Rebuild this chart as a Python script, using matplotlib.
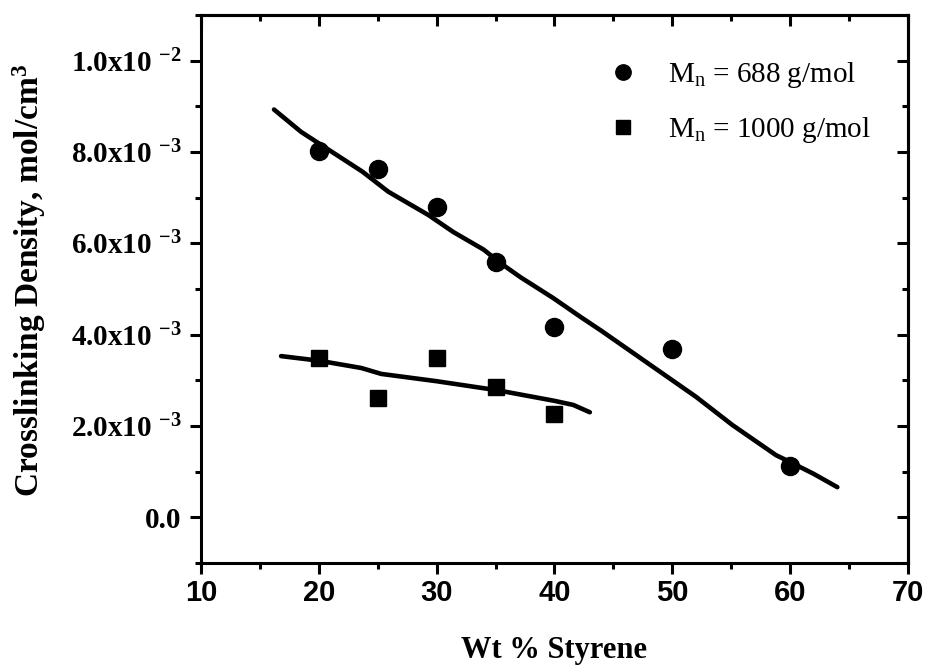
import matplotlib
matplotlib.use('Agg')
import matplotlib.pyplot as plt
import matplotlib.ticker as mticker

plt.rcParams.update({
    "font.family":       "serif",
    "font.serif":        ["Liberation Serif", "DejaVu Serif"],
    "mathtext.fontset":  "custom",
    "mathtext.rm":       "Liberation Serif",
    "mathtext.it":       "Liberation Serif:italic",
    "mathtext.bf":       "Liberation Serif:bold",
    "mathtext.default":  "regular",
    "axes.linewidth":    2.2,
})

# ── Data ───────────────────────────────────────────────────────────────────
styrene      = [20, 25, 30, 35, 40, 50, 60]
density_688  = [8.02e-3, 7.62e-3, 6.80e-3, 5.59e-3, 4.17e-3, 3.68e-3, 1.12e-3]
styrene_1000 = [20, 25, 30, 35, 40]
density_1000 = [3.49e-3, 2.61e-3, 3.49e-3, 2.85e-3, 2.26e-3]

# smoothed trend lines as drawn in the original figure
fit_688_x  = [16.2, 18.5, 23.7, 25.9, 29.3, 31.4, 34.0, 35.4, 37.1, 39.9,
              42.2, 44.0, 48.0, 52.0, 55.1, 58.8, 60.0, 62.0, 64.0]
fit_688_y  = [8.93e-3, 8.44e-3, 7.57e-3, 7.13e-3, 6.62e-3, 6.25e-3, 5.86e-3,
              5.57e-3, 5.26e-3, 4.80e-3, 4.39e-3, 4.08e-3, 3.36e-3, 2.64e-3,
              2.02e-3, 1.36e-3, 1.21e-3, 0.95e-3, 0.66e-3]
fit_1000_x = [16.8, 20.0, 23.6, 25.3, 30.0, 35.2, 40.0, 41.6, 43.0]
fit_1000_y = [3.53e-3, 3.43e-3, 3.27e-3, 3.14e-3, 2.98e-3, 2.78e-3, 2.55e-3,
              2.46e-3, 2.30e-3]

LABEL_688  = "M$_{n}$ = 688 g/mol"
LABEL_1000 = "M$_{n}$ = 1000 g/mol"


def y_fmt(v, pos):
    if abs(v) < 1e-12:
        return "0.0"
    exp = -2 if v >= 9.99e-3 else -3
    mant = v / 10.0 ** exp
    return "%.1fx10 $^{%d}$" % (mant, exp)


# ── Plot ───────────────────────────────────────────────────────────────────
fig = plt.figure(figsize=(9.26, 6.67), dpi=100)
ax = fig.add_axes([0.217, 0.156, 0.7636, 0.8215])

ax.plot(fit_688_x, fit_688_y, color="black", lw=3.3, solid_capstyle="round")
ax.plot(fit_1000_x, fit_1000_y, color="black", lw=3.3, solid_capstyle="round")
ax.plot(styrene, density_688, "o", color="black", ms=13, label=LABEL_688)
ax.plot(styrene_1000, density_1000, "s", color="black", ms=11.5, label=LABEL_1000)

ax.set_xlim(10, 70)
ax.set_ylim(-1e-3, 11e-3)
ax.xaxis.set_major_locator(mticker.MultipleLocator(10))
ax.xaxis.set_minor_locator(mticker.MultipleLocator(5))
ax.yaxis.set_major_locator(mticker.MultipleLocator(2e-3))
ax.yaxis.set_minor_locator(mticker.MultipleLocator(1e-3))
ax.yaxis.set_major_formatter(mticker.FuncFormatter(y_fmt))

ax.tick_params(which="both", direction="out", width=2.2, top=False, right=False)
ax.tick_params(which="major", length=8)
ax.tick_params(which="minor", length=4.5)
ax.tick_params(axis="y", pad=6)
for lab in ax.get_yticklabels():
    lab.set_fontsize(21)
    lab.set_fontweight("bold")
for lab in ax.get_xticklabels():
    lab.set_fontsize(21)
    lab.set_fontweight("bold")
    lab.set_family(["Liberation Sans Narrow", "Liberation Sans", "DejaVu Sans"])

# top / right ticks point inward
top = ax.secondary_xaxis("top")
top.xaxis.set_major_locator(mticker.MultipleLocator(10))
top.xaxis.set_minor_locator(mticker.MultipleLocator(5))
top.tick_params(which="both", direction="in", width=2.2, labeltop=False)
top.tick_params(which="major", length=8)
top.tick_params(which="minor", length=4.5)
right = ax.secondary_yaxis("right")
right.yaxis.set_major_locator(mticker.MultipleLocator(2e-3))
right.yaxis.set_minor_locator(mticker.MultipleLocator(1e-3))
right.tick_params(which="both", direction="in", width=2.2, labelright=False)
right.tick_params(which="major", length=8)
right.tick_params(which="minor", length=4.5)

ax.set_xlabel("Wt % Styrene", fontsize=22, fontweight="bold", labelpad=21)
ax.set_ylabel("Crosslinking Density, mol/cm$^{3}$", fontsize=24,
              fontweight="bold", labelpad=16)
ax.yaxis.label.set_y(0.515)

ax.legend(loc="upper left", bbox_to_anchor=(0.572, 0.917), frameon=False,
          fontsize=21, handletextpad=0.95, labelspacing=0.85, handlelength=1.2,
          borderaxespad=0, borderpad=0, numpoints=1, markerscale=0.85)

plt.savefig("out.png", dpi=100)
plt.close()
